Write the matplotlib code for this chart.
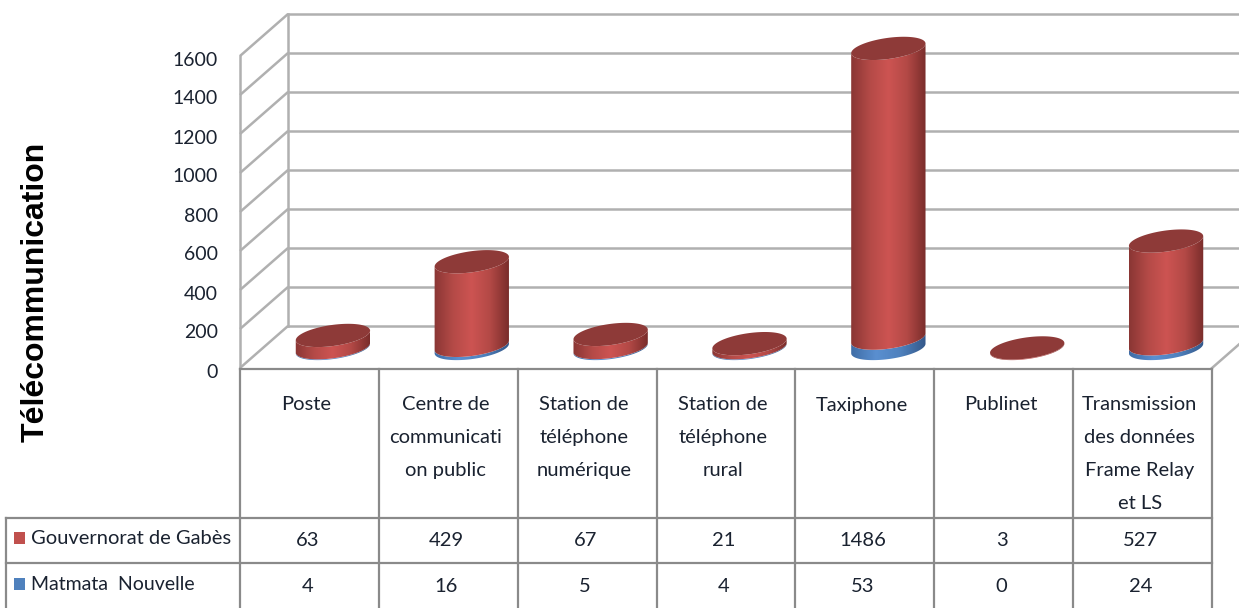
import numpy as np
import matplotlib
matplotlib.use("Agg")
import matplotlib.pyplot as plt
from matplotlib.colors import LinearSegmentedColormap
from matplotlib.patches import Polygon

categories = ["Poste", "Centre de\ncommunicati\non public", "Station de\ntéléphone\nnumérique",
              "Station de\ntéléphone\nrural", "Taxiphone", "Publinet",
              "Transmission\ndes données\nFrame Relay\net LS"]
gabes = [63, 429, 67, 21, 1486, 3, 527]
matmata = [4, 16, 5, 4, 53, 0, 24]
series_names = ["Gouvernorat de Gabès", "Matmata  Nouvelle"]
y_ticks = [0, 200, 400, 600, 800, 1000, 1200, 1400, 1600]
y_title = "Télécommunication"

W, H = 1239, 608
X0, X1, Y0, Y1 = 240, 1212, 368, 56   # plot plane in pixels
fig = plt.figure(figsize=(W / 100, H / 100), dpi=100, facecolor="white")
ax = fig.add_axes([X0 / W, 1 - Y0 / H, (X1 - X0) / W, (Y0 - Y1) / H])
ax.set_xlim(0, 7)
ax.set_ylim(0, 1600)
ax.axis("off")
ov = fig.add_axes([0, 0, 1, 1], zorder=5)
ov.set_xlim(0, W)
ov.set_ylim(H, 0)
ov.axis("off")
ov.patch.set_alpha(0)

sx = 7 / (X1 - X0)           # data per pixel
sy = 1600 / (Y0 - Y1)
DX, DY = 48 * sx, 42 * sy    # depth offset in data units
GRID = "#b0b0b0"
TABLE = "#8a8a8a"
TXT = "#1a2230"
FS = 14.5

# walls and gridlines
for v in y_ticks:
    ax.plot([0, DX], [v, v + DY], color=GRID, lw=1.8, clip_on=False, zorder=1, solid_capstyle="butt")
    ax.plot([DX, 7 + DX], [v + DY, v + DY], color=GRID, lw=1.8, clip_on=False, zorder=1)
ax.plot([0, 0], [0, 1600], color=GRID, lw=1.8, clip_on=False, zorder=1)
ax.plot([DX, DX], [DY, 1600 + DY], color=GRID, lw=1.8, clip_on=False, zorder=1)
ax.plot([7, 7 + DX], [0, DY], color=GRID, lw=1.8, clip_on=False, zorder=1)
for v in y_ticks:
    ax.text(-22 * sx, v - 4 * sy, str(v), ha="right", va="center", fontsize=14, family="Lato", color=TXT,
            clip_on=False)

# cylinders
A, B, ROT = 37.5, 10.5, np.radians(8)
t = np.linspace(0, 2 * np.pi, 181)
ex = (A * np.cos(t) * np.cos(ROT) - B * np.sin(t) * np.sin(ROT)) * sx
ey = (A * np.cos(t) * np.sin(ROT) + B * np.sin(t) * np.cos(ROT)) * sy
il, ir = int(np.argmin(ex)), int(np.argmax(ex))
lo = np.roll(np.arange(181), -il)
lower = lo[: (ir - il) % 181 + 1]          # from left extreme through lower side to right extreme
red_map = LinearSegmentedColormap.from_list("r", ["#8a3634", "#b44a47", "#cd5452", "#b34946", "#7a2d2b"])
blue_map = LinearSegmentedColormap.from_list("b", ["#3f6da6", "#5a8fd0", "#4f81bd", "#34588a"])
grad = np.linspace(0, 1, 128).reshape(1, -1)

def cylinder(cx, v0, v1, cmap, top):
    if v1 > v0:
        xs = np.r_[cx + ex[lower], (cx + ex[lower])[::-1]]
        ys = np.r_[v0 + ey[lower], (v1 + ey[lower])[::-1]]
        poly = np.c_[xs, ys]
        im = ax.imshow(grad, cmap=cmap, extent=[cx - A * sx, cx + A * sx, v0 - 40 * sy, v1 + 40 * sy],
                       aspect="auto", zorder=3)
        im.set_clip_path(Polygon(poly, transform=ax.transData))
        im.set_clip_box(fig.bbox)
    if top:
        ax.add_patch(Polygon(np.c_[cx + ex, v1 + ey], fc="#8e3a38", ec="none", zorder=4, clip_on=False))

for i, (a, b) in enumerate(zip(matmata, gabes)):
    cx = i + 0.5 + DX / 2 - 0.5 * sx
    base = DY / 2 - 1.5 * sy
    cylinder(cx, base, base + a, blue_map, False)
    cylinder(cx, base + a, base + a + b, red_map, True)
ax.set_xlim(0, 7)
ax.set_ylim(0, 1600)

# table
col = [X0 + i * (X1 - X0) / 7 for i in range(8)]
ov.plot([X0, X1], [369, 369], color=TABLE, lw=1.6)
for c in col:
    ov.plot([c, c], [369, 608], color=TABLE, lw=1.6)
for yy in (518, 563):
    ov.plot([6, X1], [yy, yy], color=TABLE, lw=1.6)
ov.plot([6, 6], [518, 608], color=TABLE, lw=1.6)

for i, name in enumerate(categories):
    cx = (col[i] + col[i + 1]) / 2
    for j, line in enumerate(name.split("\n")):
        ov.text(cx - 3, 405 + j * 32.7, line, ha="center", va="center", fontsize=FS, family="Lato", color=TXT)
    ov.text(cx - 2, 540, str(gabes[i]), ha="center", va="center", fontsize=FS, family="Lato", color=TXT)
    ov.text(cx - 2, 586, str(matmata[i]), ha="center", va="center", fontsize=FS, family="Lato", color=TXT)

for yy, name, c in ((538, series_names[0], "#c0504d"), (584, series_names[1], "#4f81bd")):
    ov.add_patch(plt.Rectangle((14, yy - 6), 11, 12, fc=c, ec="none"))
    ov.text(31, yy, name, ha="left", va="center", fontsize=FS if c == "#c0504d" else 14, family="Lato", color=TXT)

ov.text(36, 292, y_title, rotation=90, ha="center", va="center", fontsize=23, fontweight="bold",
        family="Liberation Sans", color="black")

fig.savefig("out.png", dpi=100)
